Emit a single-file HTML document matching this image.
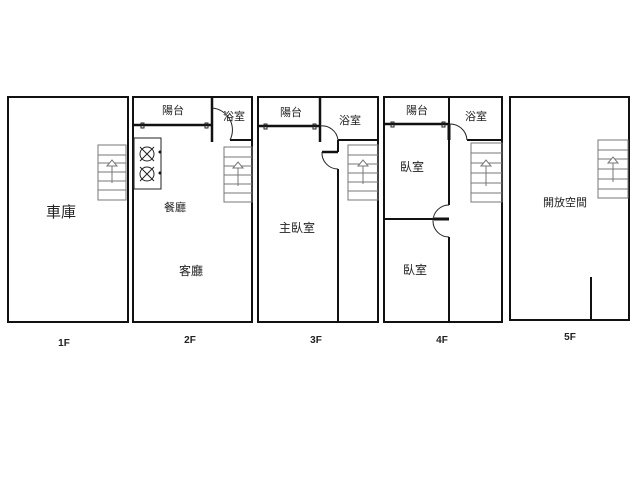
<!DOCTYPE html><html><head><style>body{margin:0;background:#fff}</style></head><body>
<svg width="640" height="480" xmlns="http://www.w3.org/2000/svg" font-family="Liberation Sans, Noto Sans CJK TC, sans-serif">
<g fill="none" stroke="#111" stroke-width="2">
<rect x="8" y="97" width="120" height="225"/>
<rect x="133" y="97" width="119" height="225"/>
<rect x="258" y="97" width="120" height="225"/>
<rect x="384" y="97" width="118" height="225"/>
<rect x="510" y="97" width="119" height="223"/>
<line x1="212" y1="97" x2="212" y2="142" stroke-width="2.5"/>
<line x1="230" y1="140" x2="252" y2="140"/>
<line x1="134" y1="125" x2="212" y2="125" stroke-width="2.5"/>
<line x1="320" y1="97" x2="320" y2="142" stroke-width="2.5"/>
<line x1="338" y1="140" x2="378" y2="140"/>
<line x1="338" y1="140" x2="338" y2="152"/>
<line x1="338" y1="169" x2="338" y2="322"/>
<line x1="259" y1="126" x2="320" y2="126" stroke-width="2.5"/>
<line x1="322" y1="152" x2="338" y2="152" stroke-width="2.5"/>
<line x1="449" y1="97" x2="449" y2="205"/>
<line x1="449" y1="237" x2="449" y2="322"/>
<line x1="384" y1="219" x2="449" y2="219"/>
<line x1="434" y1="219" x2="449" y2="219" stroke-width="3"/>
<line x1="385" y1="124" x2="449" y2="124" stroke-width="2.5"/>
<line x1="449" y1="124" x2="449" y2="140" stroke-width="3"/>
<line x1="467" y1="140" x2="502" y2="140"/>
<line x1="591" y1="277" x2="591" y2="320"/>
</g>
<g fill="none" stroke="#222" stroke-width="1">
<path d="M212 108 A22 22 0 0 1 230 140"/>
<path d="M320 126 A16 16 0 0 1 338 140"/>
<path d="M322 152 A16 16 0 0 0 338 169"/>
<path d="M449 124 A17 17 0 0 1 467 140"/>
<path d="M449 205 A16 16 0 0 0 449 237"/>
<rect x="141" y="123" width="3" height="5"/><rect x="205" y="123" width="3" height="5"/>
<rect x="264" y="124" width="3" height="5"/><rect x="313" y="124" width="3" height="5"/>
<rect x="391" y="122" width="3" height="5"/><rect x="442" y="122" width="3" height="5"/>
<rect x="134" y="138" width="27" height="51"/>
<circle cx="147" cy="154" r="7"/><circle cx="147" cy="174" r="7"/>
<path d="M140 147 L154 161 M154 147 L140 161 M140 167 L154 181 M154 167 L140 181"/>
</g>
<g fill="#111"><circle cx="160" cy="152" r="1.5"/><circle cx="160" cy="173" r="1.5"/></g>
<g fill="none" stroke="#777" stroke-width="1">
<rect x="98" y="145" width="28" height="55"/><line x1="98" y1="155" x2="126" y2="155"/><line x1="98" y1="163" x2="126" y2="163"/><line x1="98" y1="172" x2="126" y2="172"/><line x1="98" y1="181" x2="126" y2="181"/><line x1="98" y1="190" x2="126" y2="190"/><line x1="112" y1="183" x2="112" y2="165"/><path d="M107 166 L112 160 L117 166 Z" fill="#fff"/>
<rect x="224" y="147" width="28" height="55"/><line x1="224" y1="157" x2="252" y2="157"/><line x1="224" y1="166" x2="252" y2="166"/><line x1="224" y1="175" x2="252" y2="175"/><line x1="224" y1="184" x2="252" y2="184"/><line x1="224" y1="193" x2="252" y2="193"/><line x1="238" y1="186" x2="238" y2="167"/><path d="M233 168 L238 162 L243 168 Z" fill="#fff"/>
<rect x="348" y="145" width="30" height="55"/><line x1="348" y1="155" x2="378" y2="155"/><line x1="348" y1="164" x2="378" y2="164"/><line x1="348" y1="173" x2="378" y2="173"/><line x1="348" y1="182" x2="378" y2="182"/><line x1="348" y1="191" x2="378" y2="191"/><line x1="363" y1="184" x2="363" y2="165"/><path d="M358 166 L363 160 L368 166 Z" fill="#fff"/>
<rect x="471" y="143" width="31" height="59"/><line x1="471" y1="153" x2="502" y2="153"/><line x1="471" y1="163" x2="502" y2="163"/><line x1="471" y1="173" x2="502" y2="173"/><line x1="471" y1="183" x2="502" y2="183"/><line x1="471" y1="193" x2="502" y2="193"/><line x1="486" y1="186" x2="486" y2="165"/><path d="M481 166 L486 160 L491 166 Z" fill="#fff"/>
<rect x="598" y="140" width="30" height="58"/><line x1="598" y1="150" x2="628" y2="150"/><line x1="598" y1="159" x2="628" y2="159"/><line x1="598" y1="169" x2="628" y2="169"/><line x1="598" y1="179" x2="628" y2="179"/><line x1="598" y1="189" x2="628" y2="189"/><line x1="613" y1="182" x2="613" y2="162"/><path d="M608 163 L613 157 L618 163 Z" fill="#fff"/>
</g>
<g fill="#222" text-anchor="middle">
<text x="61" y="217" font-size="15">車庫</text>
<text x="173" y="114" font-size="11">陽台</text>
<text x="234" y="120" font-size="11">浴室</text>
<text x="175" y="211" font-size="11">餐廳</text>
<text x="191" y="275" font-size="12">客廳</text>
<text x="291" y="116" font-size="11">陽台</text>
<text x="350" y="124" font-size="11">浴室</text>
<text x="297" y="232" font-size="12">主臥室</text>
<text x="417" y="114" font-size="11">陽台</text>
<text x="476" y="120" font-size="11">浴室</text>
<text x="412" y="171" font-size="12">臥室</text>
<text x="415" y="274" font-size="12">臥室</text>
<text x="565" y="206" font-size="11">開放空間</text>
<g font-size="10" font-weight="bold">
<text x="64" y="346">1F</text><text x="190" y="343">2F</text><text x="316" y="343">3F</text><text x="442" y="343">4F</text><text x="570" y="340">5F</text>
</g></g>
</svg></body></html>
